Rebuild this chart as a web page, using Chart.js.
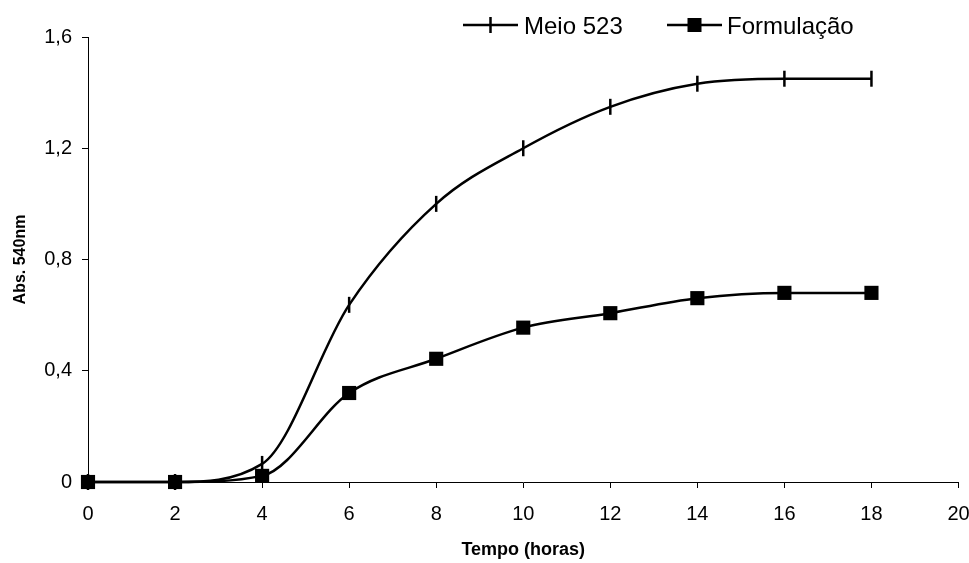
<!DOCTYPE html>
<html>
<head>
<meta charset="utf-8">
<script src="https://cdn.jsdelivr.net/npm/chart.js@4/dist/chart.umd.min.js"></script>
<style>
  html, body { margin: 0; padding: 0; background: #fff; }
  #wrap { width: 969px; height: 563px; position: relative; }
</style>
</head>
<body>
<div id="wrap"><canvas id="growthChart"></canvas></div>
<script>
const hours = [0, 2, 4, 6, 8, 10, 12, 14, 16, 18];
const meio523 = [0, 0, 0.065, 0.637, 1.0, 1.2, 1.349, 1.432, 1.45, 1.45];
const formulacao = [0, 0, 0.022, 0.32, 0.443, 0.555, 0.607, 0.661, 0.68, 0.68];
const seriesNames = ['Meio 523', 'Formulação'];

const FONT = '"Liberation Sans", Arial, sans-serif';

function toPoints(values) {
  return hours.map((h, i) => ({ x: h, y: values[i] }));
}

// leyenda dibujada a mano: linea + marcador como en Excel
const excelLegend = {
  id: 'excelLegend',
  afterDraw(chart) {
    const ctx = chart.ctx;
    const y = 25;
    const items = [
      { x0: 463, x1: 518, tx: 524, style: 'tick' },
      { x0: 667, x1: 722, tx: 727, style: 'square' }
    ];
    ctx.save();
    ctx.strokeStyle = '#000';
    ctx.fillStyle = '#000';
    ctx.lineWidth = 2.5;
    items.forEach((it, i) => {
      ctx.beginPath();
      ctx.moveTo(it.x0, y);
      ctx.lineTo(it.x1, y);
      ctx.stroke();
      const cx = (it.x0 + it.x1) / 2;
      if (it.style === 'tick') {
        ctx.beginPath();
        ctx.moveTo(cx, y - 8);
        ctx.lineTo(cx, y + 8);
        ctx.stroke();
      } else {
        ctx.fillRect(cx - 7, y - 7, 14, 14);
      }
      ctx.font = '24px ' + FONT;
      ctx.textBaseline = 'alphabetic';
      ctx.textAlign = 'left';
      ctx.fillText(seriesNames[i], it.tx, 34);
    });
    ctx.restore();
  }
};

const ctx = document.getElementById('growthChart');
new Chart(ctx, {
  type: 'line',
  data: {
    datasets: [
      {
        label: seriesNames[0],
        data: toPoints(meio523),
        borderColor: '#000',
        backgroundColor: '#000',
        borderWidth: 2.5,
        cubicInterpolationMode: 'monotone',
        pointStyle: 'line',
        rotation: 90,
        pointRadius: 8,
        pointBorderWidth: 2.5,
        clip: false,
        fill: false
      },
      {
        label: seriesNames[1],
        data: toPoints(formulacao),
        borderColor: '#000',
        backgroundColor: '#000',
        borderWidth: 2.5,
        cubicInterpolationMode: 'monotone',
        pointStyle: 'rect',
        pointRadius: 10,
        pointBorderWidth: 0,
        clip: false,
        fill: false
      }
    ]
  },
  options: {
    responsive: true,
    maintainAspectRatio: false,
    animation: false,
    layout: { padding: { top: 37, right: 0, left: 0, bottom: 0 } },
    plugins: {
      legend: { display: false },
      tooltip: { enabled: false }
    },
    scales: {
      x: {
        type: 'linear',
        min: 0,
        max: 20,
        ticks: {
          stepSize: 2,
          color: '#000',
          padding: 14,
          font: { family: FONT, size: 20 }
        },
        grid: { drawOnChartArea: false, drawTicks: true, tickLength: 6, color: '#000' },
        border: { color: '#000', width: 1 },
        title: {
          display: true,
          text: 'Tempo (horas)',
          color: '#000',
          padding: { top: 6, bottom: 2 },
          font: { family: FONT, size: 18, weight: 'bold' }
        },
        afterFit(scale) {
          scale.height = 81;
          scale.paddingLeft = 0;
          scale.paddingRight = 10;
        }
      },
      y: {
        min: 0,
        max: 1.6,
        ticks: {
          stepSize: 0.4,
          color: '#000',
          padding: 10,
          font: { family: FONT, size: 20 },
          callback: v => v === 0 ? '0' : v.toFixed(1).replace('.', ',')
        },
        grid: { drawOnChartArea: false, drawTicks: true, tickLength: 6, color: '#000' },
        border: { color: '#000', width: 1 },
        title: {
          display: true,
          text: 'Abs. 540nm',
          color: '#000',
          padding: { top: 11, bottom: 0 },
          font: { family: FONT, size: 16, weight: 'bold' }
        },
        afterFit(scale) { scale.width = 88; }
      }
    }
  },
  plugins: [excelLegend]
});
</script>
</body>
</html>
